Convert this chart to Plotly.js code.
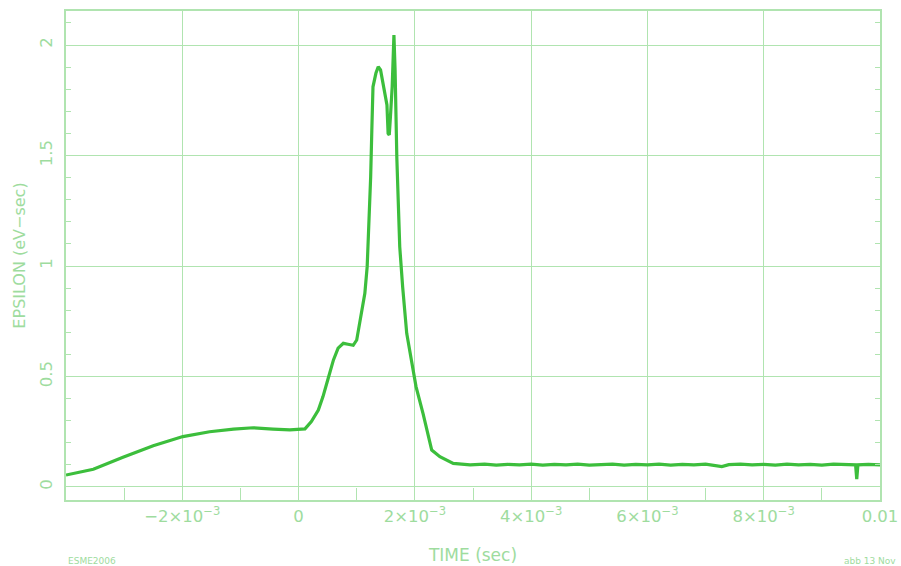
<!DOCTYPE html>
<html><head><meta charset="utf-8">
<script src="https://cdn.plot.ly/plotly-3.0.1.min.js"></script>
<style>html,body{margin:0;padding:0;background:#fff}#chart{width:901px;height:566px}</style>
</head><body><div id="chart"></div>
<script>
const timeSec = [-0.00400,-0.00353,-0.00302,-0.00250,-0.00199,-0.00153,-0.00112,-0.00078,-0.00044,-0.00015,0.00011,0.00022,0.00034,0.00042,0.00051,0.00060,0.00068,0.00077,0.00085,0.00094,0.00100,0.00105,0.00110,0.00114,0.00118,0.00121,0.00124,0.00126,0.00128,0.00133,0.00137,0.00141,0.00146,0.00150,0.00152,0.00154,0.00156,0.00158,0.00161,0.00164,0.00166,0.00169,0.00171,0.00174,0.00179,0.00186,0.00194,0.00202,0.00214,0.00223,0.00229,0.00243,0.00266,0.00295,0.0032,0.0034,0.0036,0.0038,0.0040,0.0042,0.0044,0.0046,0.0048,0.0050,0.0052,0.0054,0.0056,0.0058,0.0060,0.0062,0.0064,0.0066,0.0068,0.0070,0.00728,0.0074,0.0076,0.0078,0.0080,0.0082,0.0084,0.0086,0.0088,0.0090,0.0092,0.0094,0.00958,0.00960,0.00962,0.0098,0.0100];
const epsilon = [0.054,0.080,0.134,0.187,0.228,0.250,0.262,0.268,0.262,0.258,0.263,0.296,0.348,0.409,0.492,0.575,0.628,0.650,0.646,0.641,0.665,0.741,0.808,0.876,0.997,1.178,1.404,1.615,1.811,1.872,1.902,1.887,1.811,1.739,1.729,1.600,1.593,1.676,1.811,2.045,1.887,1.490,1.299,1.087,0.906,0.695,0.575,0.454,0.333,0.228,0.167,0.137,0.107,0.100,0.103,0.099,0.102,0.100,0.103,0.099,0.102,0.100,0.103,0.099,0.101,0.103,0.099,0.102,0.100,0.103,0.099,0.102,0.100,0.103,0.092,0.101,0.103,0.100,0.102,0.099,0.103,0.100,0.102,0.099,0.103,0.100,0.100,0.035,0.100,0.102,0.100];
const xTickVals = [-0.002,0,0.002,0.004,0.006,0.008,0.01];
const xTickText = ['\u22122\u00d710<sup>\u22123</sup>','0','2\u00d710<sup>\u22123</sup>','4\u00d710<sup>\u22123</sup>','6\u00d710<sup>\u22123</sup>','8\u00d710<sup>\u22123</sup>','0.01'];
const yTickVals = [0,0.5,1,1.5,2];
const yTickText = ['0','0.5','1','1.5','2'];

const txt = '#9edc9e';
const grid = '#b0e4b0';
const font = {family:'DejaVu Sans, sans-serif', size:16, color:txt};

Plotly.newPlot('chart', [{
  x: timeSec, y: epsilon, type:'scatter', mode:'lines',
  line:{color:'#3cbe3c', width:3.2}, hoverinfo:'skip'
}], {
  width:901, height:566,
  margin:{l:66, r:21, t:11, b:66},
  paper_bgcolor:'#fff', plot_bgcolor:'#fff',
  showlegend:false,
  font: font,
  xaxis:{
    range:[-0.004,0.01], tickmode:'array', tickvals:xTickVals, ticktext:xTickText,
    showgrid:true, gridcolor:grid, gridwidth:1, zeroline:false,
    showline:true, linecolor:grid, linewidth:2, mirror:true,
    ticks:'', tickfont:{family:'DejaVu Sans, sans-serif', size:16.5, color:txt},
    minor:{tickvals:[-0.003,-0.001,0.001,0.003,0.005,0.007,0.009], ticks:'inside', ticklen:12, tickcolor:grid, tickwidth:1, showgrid:false},
    title:{text:'TIME (sec)', font:{family:'DejaVu Sans, sans-serif', size:17, color:txt}, standoff:24}
  },
  yaxis:{
    range:[-0.059,2.154], tickmode:'array', tickvals:yTickVals, ticktext:yTickText,
    showgrid:true, gridcolor:grid, gridwidth:1, zeroline:false,
    showline:true, linecolor:grid, linewidth:2, mirror:'allticks',
    ticks:'inside', ticklen:10, tickcolor:grid, tickangle:-90, ticklabelstandoff:5,
    tickfont:{family:'DejaVu Sans, sans-serif', size:16.5, color:txt},
    minor:{dtick:0.1, ticks:'inside', ticklen:5, tickcolor:grid, showgrid:false},
    title:{text:'EPSILON (eV\u2212sec)', font:{family:'DejaVu Sans, sans-serif', size:16, color:txt}, standoff:8}
  },
  annotations:[
    {text:'ESME2006', xref:'paper', yref:'paper', x:0.0, y:-0.11, xanchor:'left', yanchor:'top', showarrow:false, font:{family:'DejaVu Sans, sans-serif', size:9, color:txt}},
    {text:'abb 13 Nov', xref:'paper', yref:'paper', x:0.953, y:-0.11, xanchor:'left', yanchor:'top', showarrow:false, font:{family:'DejaVu Sans, sans-serif', size:9, color:txt}}
  ]
}, {displayModeBar:false, staticPlot:true});
</script></body></html>
